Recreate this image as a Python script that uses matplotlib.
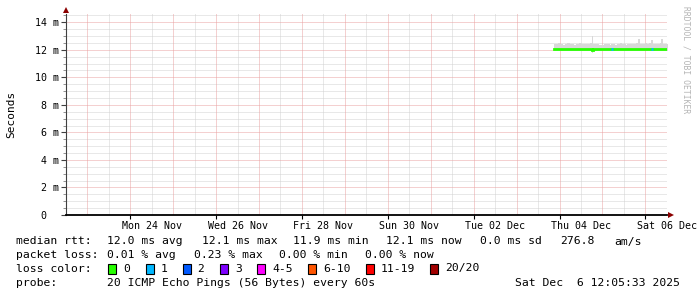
import matplotlib
matplotlib.use("Agg")
import matplotlib.pyplot as plt
import matplotlib.transforms as mtransforms
from matplotlib.patches import Rectangle
import numpy as np
import pandas as pd

# ---------------- data ----------------
window_start = "2025-11-22 12:05:33"
window_end = "2025-12-06 12:05:33"
series_start = "2025-12-03 21:00"          # hourly RRD samples from here

median_ms = [12.03, 12.05, 12.04, 12.06, 12.05, 12.03, 12.04, 12.06,
             12.07, 12.05, 12.04, 12.05, 12.06, 12.08, 12.07, 12.05,
             12.04, 12.06, 12.05, 12.07, 12.06, 12.02, 12.04, 12.05,
             12.06, 12.05, 12.04, 12.03, 12.05, 12.06, 12.05, 12.04,
             12.06, 12.05, 12.04, 12.05, 12.06, 12.05, 12.04, 12.03,
             12.05, 12.06, 12.05, 12.04, 12.05, 12.06, 12.05, 12.04,
             12.05, 12.06, 12.07, 12.05, 12.04, 12.05, 12.06, 12.05,
             12.04, 12.05, 12.06, 12.05, 12.04, 12.05, 12.06, 12.05]
smoke_hi_ms = [12.40, 12.45, 12.48, 12.42, 12.40, 12.38, 12.42, 12.46,
               12.50, 12.44, 12.40, 12.38, 12.42, 12.45, 12.48, 12.44,
               12.40, 12.42, 12.40, 12.44, 12.46, 12.98, 12.45, 12.42,
               12.40, 12.38, 12.36, 12.38, 12.40, 12.42, 12.40, 12.38,
               12.42, 12.40, 12.38, 12.40, 12.44, 12.46, 12.42, 12.40,
               12.38, 12.40, 12.42, 12.44, 12.40, 12.45, 12.50, 12.75,
               12.44, 12.40, 12.42, 12.46, 12.44, 12.48, 12.70, 12.45,
               12.42, 12.40, 12.44, 12.46, 12.75, 12.44, 12.42, 12.40]
smoke_lo_ms = [11.92, 11.93, 11.92, 11.94, 11.93, 11.92, 11.93, 11.94,
               11.94, 11.93, 11.92, 11.93, 11.94, 11.95, 11.94, 11.93,
               11.92, 11.94, 11.93, 11.94, 11.93, 11.80, 11.92, 11.93,
               11.94, 11.93, 11.92, 11.92, 11.93, 11.94, 11.93, 11.92,
               11.94, 11.93, 11.92, 11.93, 11.94, 11.93, 11.92, 11.92,
               11.93, 11.94, 11.93, 11.92, 11.93, 11.94, 11.93, 11.92,
               11.93, 11.94, 11.95, 11.93, 11.92, 11.93, 11.94, 11.93,
               11.92, 11.93, 11.94, 11.93, 11.92, 11.93, 11.94, 11.93]
loss_count = [0] * 64
loss_count[32] = 1
loss_count[54] = 1

loss_labels = ["0", "1", "2", "3", "4-5", "6-10", "11-19", "20/20"]
loss_colors = ["#26ff00", "#00b8ff", "#0059ff", "#7e00ff",
               "#ff00ff", "#ff5500", "#ff0000", "#a10000"]
loss_upper = [0, 1, 2, 3, 5, 10, 19, 20]

y_major = [0, 2, 4, 6, 8, 10, 12, 14]
y_labels = ["0", "2 m", "4 m", "6 m", "8 m", "10 m", "12 m", "14 m"]
x_label_days = ["2025-11-24", "2025-11-26", "2025-11-28", "2025-11-30",
                "2025-12-02", "2025-12-04", "2025-12-06"]

legend_rows = [
    [(16, "median rtt:"), (107, "12.0 ms avg"), (202, "12.1 ms max"),
     (293, "11.9 ms min"), (386, "12.1 ms now"), (480, "0.0 ms sd"),
     (560, "276.8"), (614, "am/s")],
    [(16, "packet loss:"), (107, "0.01 % avg"), (194, "0.23 % max"),
     (279, "0.00 % min"), (365, "0.00 % now")],
]
probe_text = "20 ICMP Echo Pings (56 Bytes) every 60s"
stamp_text = "Sat Dec  6 12:05:33 2025"

# ---------------- figure ----------------
W, H = 697, 297
MONO = "DejaVu Sans Mono"
fig = plt.figure(figsize=(W / 100, H / 100), dpi=100)
fig.patch.set_facecolor("white")
L, R, T, B = 66, 667, 14, 215
ax = fig.add_axes([L / W, 1 - B / H, (R - L) / W, (B - T) / H])
ax.set_facecolor("white")

t0 = pd.Timestamp(window_start)
t1 = pd.Timestamp(window_end)
ax.set_xlim(t0, t1)
ax.set_ylim(0, 14.6)

# grid
px = 0.72
MAJ = "#eaa2a2"
MIN = "#d2d2d2"
days = pd.date_range(t0.normalize() + pd.Timedelta(days=1), t1, freq="D")
noons = pd.date_range(t0.normalize() + pd.Timedelta(hours=12), t1, freq="D")
for d in noons:
    if t0 < d < t1:
        ax.axvline(d, color=MIN, lw=px, ls=(0, (1, 1)), zorder=0)
for d in days:
    ax.axvline(d, color=MAJ, lw=px, ls=(0, (1, 1)), zorder=0.5)
for v in np.arange(0.5, 14.6, 0.5):
    if abs(v % 2) < 1e-9:
        ax.axhline(v, color=MAJ, lw=px, ls=(0, (1, 1)), zorder=0.5)
    else:
        ax.axhline(v, color=MIN, lw=px, ls=(0, (1, 1)), zorder=0)

# data
times = pd.date_range(series_start, periods=len(median_ms), freq="h")
tt = list(times) + [times[-1] + pd.Timedelta(hours=1)]
med = np.array(median_ms)
ax.fill_between(tt, list(smoke_lo_ms) + [smoke_lo_ms[-1]],
                list(smoke_hi_ms) + [smoke_hi_ms[-1]],
                step="post", color="#d8d8d8", lw=0, zorder=2)
ax.step(tt, list(med) + [med[-1]], where="post", color=loss_colors[0],
        lw=2.0, zorder=3, solid_joinstyle="miter")
for i, lc in enumerate(loss_count):
    if lc > 0:
        k = next(j for j, u in enumerate(loss_upper) if lc <= u)
        ax.hlines(med[i], tt[i], tt[i + 1], color=loss_colors[k],
                  lw=2.0, zorder=4)

# axes
for s in ["top", "right"]:
    ax.spines[s].set_visible(False)
ax.spines["bottom"].set_linewidth(1.3)
ax.spines["bottom"].set_color("black")
ax.spines["left"].set_linewidth(0.8)
ax.spines["left"].set_color("#404040")
ax.spines["bottom"].set_zorder(5)
ax.spines["left"].set_zorder(5)

ax.plot([0], [1.0 + 4 / (B - T)], marker="^", color="#8b0000", ms=4.5,
        transform=ax.transAxes, clip_on=False, zorder=6, mew=0)
ax.plot([1.0 + 4 / (R - L)], [0], marker=">", color="#8b0000", ms=4.5,
        transform=ax.transAxes, clip_on=False, zorder=6, mew=0)

ax.set_yticks(y_major)
ax.set_yticklabels(y_labels, family=MONO, fontsize=7.2)
ax.set_yticks(np.arange(0.5, 14.6, 0.5), minor=True)
ax.tick_params(axis="y", which="major", length=3.5, width=0.8, pad=1.5,
               color="#404040")
ax.tick_params(axis="y", which="minor", length=2, width=0.6, color="#808080")
zero_lbl = ax.get_yticklabels()[0]
zero_lbl.set_transform(zero_lbl.get_transform() +
                       mtransforms.ScaledTranslation(-0.13, 0, fig.dpi_scale_trans))

lab_pos = [pd.Timestamp(d) + pd.Timedelta(hours=12) for d in x_label_days]
lab_txt = [pd.Timestamp(d).strftime("%a %d %b") for d in x_label_days]
ax.set_xticks(lab_pos)
ax.set_xticklabels(lab_txt, family=MONO, fontsize=7.2)
ax.set_xticks([pd.Timestamp(d) for d in x_label_days], minor=True)
ax.tick_params(axis="x", which="major", length=0, pad=4)
ax.tick_params(axis="x", which="minor", length=3, width=0.8, color="black")

# texts
fig.text(11 / W, 1 - 114 / H, "Seconds", rotation=90, family=MONO,
         fontsize=8, ha="center", va="center")
fig.text(686 / W, 1 - 60 / H, "RRDTOOL / TOBI OETIKER", rotation=270,
         family=MONO, fontsize=5.8, color="#b4b4b4", ha="center", va="center")

FS = 8.2
row_y = [241.5, 255, 268.5, 282.5]
for r, row in enumerate(legend_rows):
    for x, s in row:
        fig.text(x / W, 1 - row_y[r] / H, s, family=MONO, fontsize=FS,
                 ha="left", va="center")

fig.text(16 / W, 1 - row_y[2] / H, "loss color:", family=MONO, fontsize=FS,
         ha="left", va="center")
box_x = [108, 145.5, 182.5, 220, 257, 308, 366, 430]
for bx, lbl, col in zip(box_x, loss_labels, loss_colors):
    fig.patches.append(Rectangle(((bx) / W, 1 - (row_y[2] + 5) / H),
                                 8 / W, 10 / H, transform=fig.transFigure,
                                 facecolor=col, edgecolor="black", lw=0.8))
    fig.text((bx + 15) / W, 1 - row_y[2] / H, lbl, family=MONO, fontsize=FS,
             ha="left", va="center")

fig.text(16 / W, 1 - row_y[3] / H, "probe:", family=MONO, fontsize=FS,
         ha="left", va="center")
fig.text(107 / W, 1 - row_y[3] / H, probe_text, family=MONO, fontsize=FS,
         ha="left", va="center")
fig.text(680 / W, 1 - row_y[3] / H, stamp_text, family=MONO, fontsize=FS,
         ha="right", va="center")

fig.savefig("out.png", dpi=100, facecolor="white")
